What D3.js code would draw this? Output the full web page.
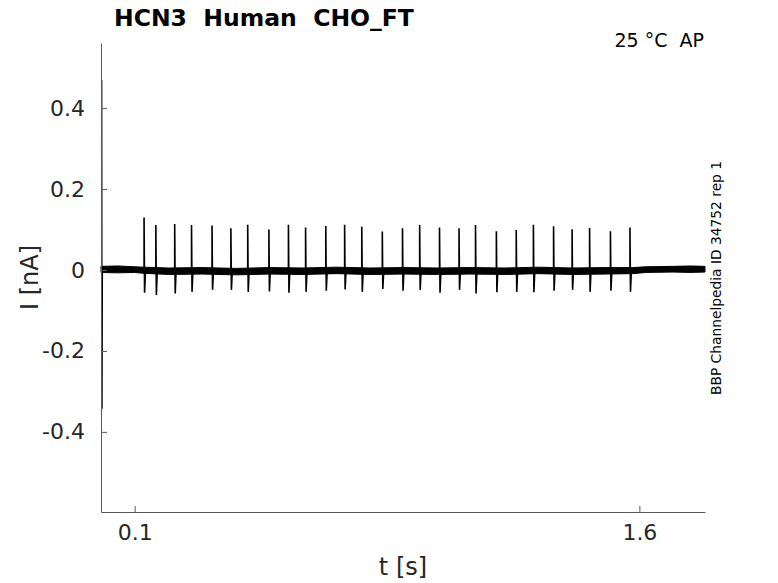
<!DOCTYPE html>
<html>
<head>
<meta charset="utf-8">
<script src="https://cdn.jsdelivr.net/npm/d3@7"></script>
<style>
  body { margin: 0; background: #fff; }
  svg { display: block; font-family: "DejaVu Sans", sans-serif; }
</style>
</head>
<body>
<div id="chart"></div>
<script>
// ---- data ----
const title = 'HCN3  Human  CHO_FT';
const condition = '25 °C  AP';
const sourceLabel = 'BBP Channelpedia ID 34752 rep 1';

const xTicks = [0.1, 1.6];
const yTicks = [-0.4, -0.2, 0, 0.2, 0.4];

// noise band envelope (nA) of the baseline trace
const noiseT  = [0, 0.05, 0.10, 0.125, 0.20, 0.30, 0.40, 0.50, 0.60, 0.70, 0.80, 0.90,
                 1.00, 1.10, 1.20, 1.30, 1.40, 1.50, 1.58, 1.62, 1.70, 1.75, 1.795];
const noiseHi = [0.009, 0.010, 0.008, 0.007, 0.005, 0.006, 0.004, 0.006, 0.005, 0.007, 0.005, 0.006,
                 0.005, 0.006, 0.005, 0.007, 0.005, 0.006, 0.006, 0.008, 0.009, 0.010, 0.009];
const noiseLo = [-0.006, -0.007, -0.006, -0.008, -0.011, -0.010, -0.012, -0.010, -0.011, -0.009, -0.011, -0.010,
                 -0.011, -0.010, -0.011, -0.009, -0.011, -0.010, -0.009, -0.006, -0.005, -0.006, -0.005];

// capacitive transient at pulse onset
const transientT = 0.002;
const transientPeak = 0.469;
const transientTrough = -0.343;

// action-potential clamp spikes: time (s), peak (nA), trough (nA)
const spikeT = [0.128, 0.163, 0.219, 0.269, 0.330, 0.386, 0.436, 0.499, 0.557, 0.608, 0.668, 0.724,
                0.775, 0.836, 0.896, 0.947, 1.006, 1.064, 1.113, 1.175, 1.234, 1.285, 1.345, 1.400,
                1.452, 1.514, 1.572];
const spikePeak = [0.130, 0.111, 0.114, 0.111, 0.110, 0.103, 0.112, 0.100, 0.112, 0.105, 0.109, 0.112,
                   0.107, 0.095, 0.103, 0.111, 0.105, 0.103, 0.111, 0.096, 0.099, 0.112, 0.108, 0.101,
                   0.104, 0.096, 0.105];
const spikeTrough = [-0.056, -0.062, -0.058, -0.054, -0.049, -0.049, -0.054, -0.053, -0.056, -0.054, -0.051, -0.048,
                     -0.054, -0.047, -0.051, -0.049, -0.056, -0.049, -0.058, -0.055, -0.054, -0.055, -0.051, -0.049,
                     -0.054, -0.051, -0.054];

const xDomain = [0, 1.795];
const yDomain = [-0.598, 0.561];

// ---- layout ----
const width = 778, height = 583;
const plot = { left: 101, right: 705, top: 43, bottom: 512 };
const axisColor = '#5a5a5a';
const textColor = '#262626';

const svg = d3.select('#chart').append('svg')
  .attr('width', width)
  .attr('height', height);

const x = d3.scaleLinear().domain(xDomain).range([plot.left, plot.right]);
const y = d3.scaleLinear().domain(yDomain).range([plot.bottom, plot.top]);

// tick labels use a plain hyphen like the original
const fmt = d => d === 0 ? '0' : d3.format('.1f')(d).replace('\u2212', '-');

// trace
const traceG = svg.append('g').attr('class', 'trace');

const band = noiseT.map((t, i) => ({ t, hi: noiseHi[i], lo: noiseLo[i] }));
traceG.append('path')
  .datum(band)
  .attr('fill', '#000')
  .attr('stroke', '#000')
  .attr('stroke-width', 1)
  .attr('d', d3.area().x(d => x(d.t)).y0(d => y(d.lo)).y1(d => y(d.hi)));

const line = d3.line().x(d => x(d[0])).y(d => y(d[1]));

traceG.append('path')
  .attr('fill', 'none')
  .attr('stroke', '#000')
  .attr('stroke-width', 1.4)
  .attr('d', line([[transientT, 0], [transientT, transientPeak],
                   [transientT + 0.001, transientTrough], [transientT + 0.002, 0]]));

traceG.selectAll('path.spike')
  .data(spikeT.map((t, i) => ({ t, peak: spikePeak[i], trough: spikeTrough[i] })))
  .join('path')
  .attr('class', 'spike')
  .attr('fill', 'none')
  .attr('stroke', '#000')
  .attr('stroke-width', 1.6)
  .attr('d', d => line([[d.t, 0], [d.t, d.peak], [d.t + 0.0015, d.trough], [d.t + 0.004, -0.005]]));

// axes
const xAxis = d3.axisBottom(x).tickValues(xTicks).tickFormat(d3.format('.1f'))
  .tickSizeInner(-6).tickSizeOuter(0).tickPadding(12);
const yAxis = d3.axisLeft(y).tickValues(yTicks).tickFormat(fmt)
  .tickSizeInner(-6).tickSizeOuter(0).tickPadding(16);

const gx = svg.append('g').attr('transform', `translate(0,${plot.bottom})`).call(xAxis);
const gy = svg.append('g').attr('transform', `translate(${plot.left},0)`).call(yAxis);

[gx, gy].forEach(g => {
  g.select('.domain').attr('stroke', axisColor);
  g.selectAll('.tick line').attr('stroke', axisColor);
  g.selectAll('.tick text')
    .attr('fill', textColor)
    .style('font-size', '22px')
    .style('font-family', '"DejaVu Sans", sans-serif');
});
gx.selectAll('.tick text').attr('dy', '0.71em');

// axis titles
svg.append('text')
  .attr('x', (plot.left + plot.right) / 2)
  .attr('y', 575)
  .attr('text-anchor', 'middle')
  .attr('fill', textColor)
  .style('font-size', '24px')
  .text('t [s]');

svg.append('text')
  .attr('transform', `translate(38,${(plot.top + plot.bottom) / 2}) rotate(-90)`)
  .attr('text-anchor', 'middle')
  .attr('fill', textColor)
  .style('font-size', '24px')
  .text('I [nA]');

// title and annotations
svg.append('text')
  .attr('x', 114)
  .attr('y', 26)
  .attr('fill', '#000')
  .style('font-size', '23.5px')
  .style('font-weight', 'bold')
  .style('white-space', 'pre')
  .attr('xml:space', 'preserve')
  .text(title);

svg.append('text')
  .attr('x', 704)
  .attr('y', 47)
  .attr('text-anchor', 'end')
  .attr('fill', '#000')
  .style('font-size', '19px')
  .style('white-space', 'pre')
  .attr('xml:space', 'preserve')
  .text(condition);

svg.append('text')
  .attr('transform', `translate(721,278) rotate(-90)`)
  .attr('text-anchor', 'middle')
  .attr('fill', '#000')
  .style('font-size', '13.8px')
  .text(sourceLabel);
</script>
</body>
</html>
